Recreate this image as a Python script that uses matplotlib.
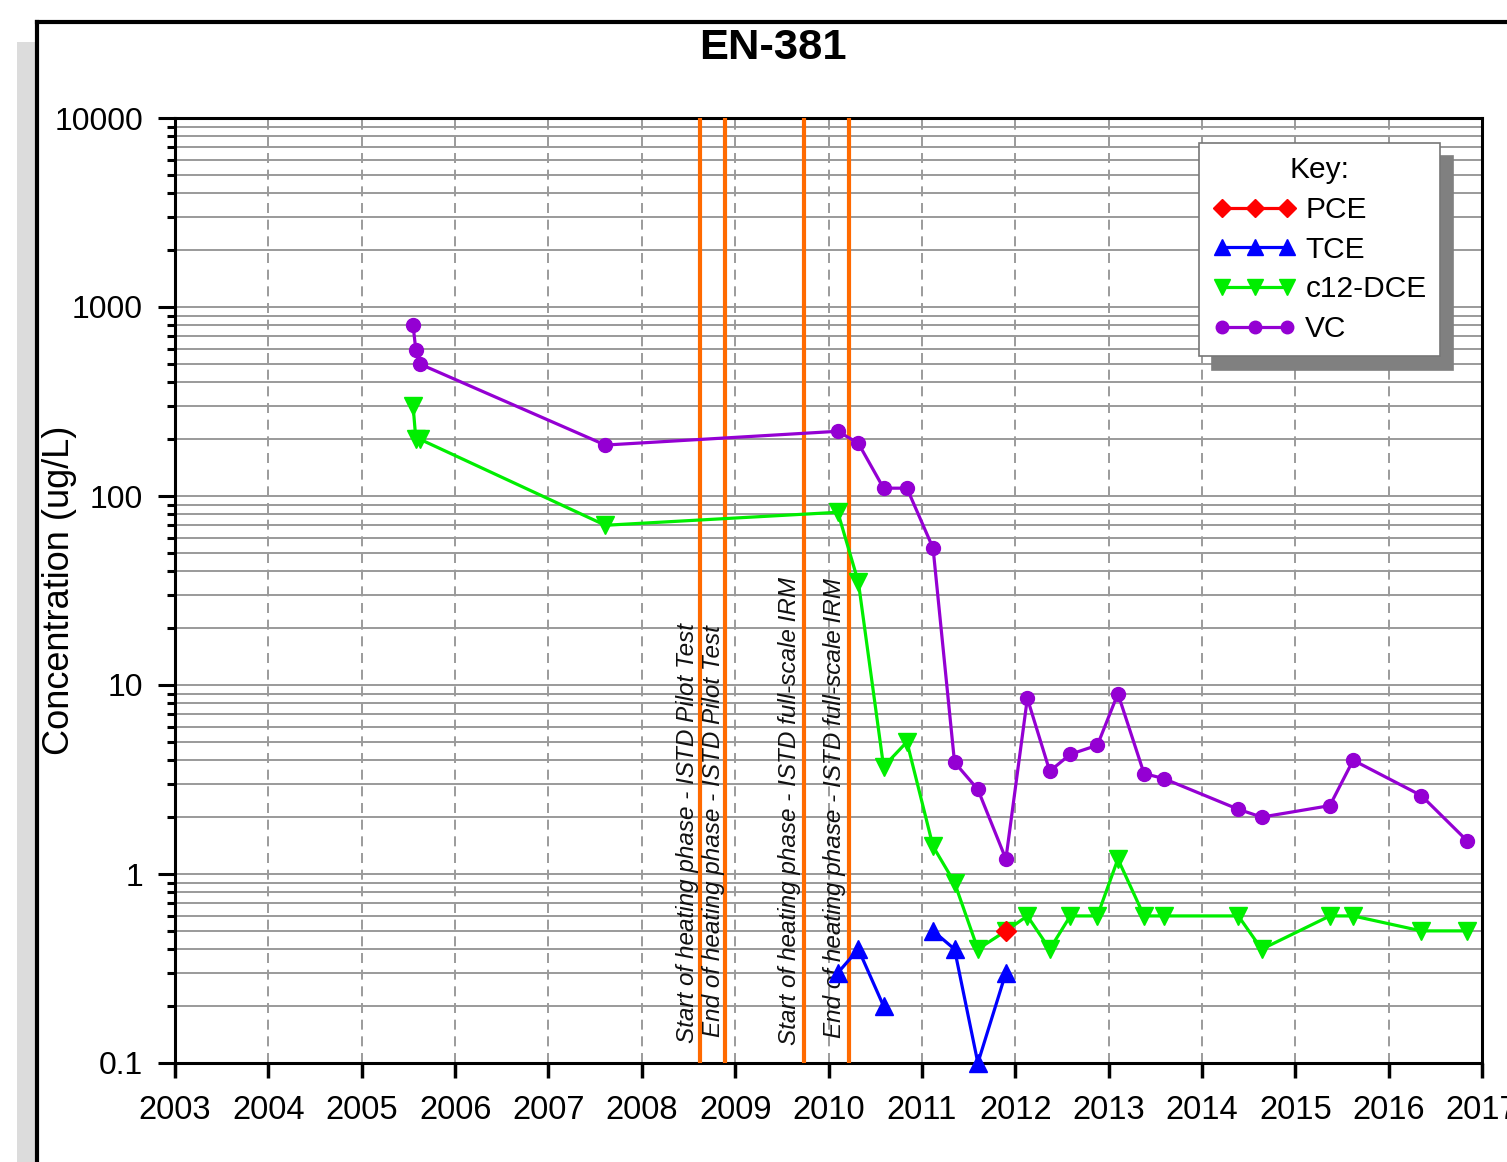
import numpy as np
import matplotlib
matplotlib.use('Agg')
import matplotlib.pyplot as plt
from matplotlib.lines import Line2D
from matplotlib.patches import Rectangle
import matplotlib.ticker as mticker
import matplotlib.transforms as mtransforms

plt.rcParams['font.family'] = ['Liberation Sans', 'DejaVu Sans']

nan = np.nan
# ---- data ----
vc_dates = [2005.55, 2005.58, 2005.62, 2007.61, 2010.10, 2010.32, 2010.59, 2010.84,
            2011.12, 2011.35, 2011.60, 2011.90, 2012.13, 2012.37, 2012.59, 2012.88,
            2013.10, 2013.38, 2013.59, 2014.39, 2014.64, 2015.37, 2015.62, 2016.35, 2016.84]
vc = [800, 590, 500, 186, 220, 190, 110, 110, 53, 3.9, 2.8, 1.2, 8.5, 3.5, 4.3, 4.8,
      9.0, 3.4, 3.2, 2.2, 2.0, 2.3, 4.0, 2.6, 1.5]
dce_dates = [2005.55, 2005.58, 2005.62, 2007.61, 2010.10, 2010.32, 2010.59, 2010.84,
             2011.12, 2011.35, 2011.60, 2011.90, 2012.13, 2012.37, 2012.59, 2012.88,
             2013.10, 2013.38, 2013.59, 2014.39, 2014.64, 2015.37, 2015.62, 2016.35, 2016.84]
dce = [300, 200, 200, 70, 82, 35, 3.7, 5.0, 1.4, 0.9, 0.4, 0.5, 0.6, 0.4, 0.6, 0.6,
       1.2, 0.6, 0.6, 0.6, 0.4, 0.6, 0.6, 0.5, 0.5]
tce_dates = [2010.10, 2010.32, 2010.59, 2010.84, 2011.12, 2011.35, 2011.60, 2011.90]
tce = [0.3, 0.4, 0.2, nan, 0.5, 0.4, 0.1, 0.3]
pce_dates = [2011.90]
pce = [0.5]

event_dates = [2008.62, 2008.89, 2009.74, 2010.22]
event_labels = ["Start of heating phase - ISTD Pilot Test",
                "End of heating phase - ISTD Pilot Test",
                "Start of heating phase - ISTD full-scale IRM",
                "End of heating phase - ISTD full-scale IRM"]

year_ticks = list(range(2003, 2018))
y_ticks = [0.1, 1, 10, 100, 1000, 10000]
y_tick_labels = ["0.1", "1", "10", "100", "1000", "10000"]

series_names = ["PCE", "TCE", "c12-DCE", "VC"]
series_colors = ["#ff0000", "#0000ff", "#00ee00", "#9400d3"]
series_markers = ["D", "^", "v", "o"]

# ---- figure ----
W, H = 1507, 1162
fig = plt.figure(figsize=(W / 100, H / 100), dpi=100)

# outer frame with shadow
fig.patches.append(Rectangle((17 / W, 0), 20 / W, 1 - 42 / H, transform=fig.transFigure,
                             facecolor='#dcdcdc', edgecolor='none', zorder=0))
fig.lines.append(Line2D([37 / W, 37 / W], [0, 1 - 22 / H], transform=fig.transFigure,
                        color='black', lw=3, zorder=1))
fig.lines.append(Line2D([37 / W, 1.0], [1 - 22 / H, 1 - 22 / H], transform=fig.transFigure,
                        color='black', lw=3, zorder=1))

ax = fig.add_axes([175 / W, 1 - 1063 / H, (1482 - 175) / W, (1063 - 118) / H])
ax.set_yscale('log')
ax.set_xlim(2003, 2017)
ax.set_ylim(0.1, 10000)

# grid
ax.yaxis.set_major_locator(mticker.FixedLocator(y_ticks))
ax.yaxis.set_major_formatter(mticker.FixedFormatter(y_tick_labels))
ax.yaxis.set_minor_locator(mticker.LogLocator(base=10, subs=np.arange(2, 10)))
ax.yaxis.set_minor_formatter(mticker.NullFormatter())
ax.set_xticks(year_ticks)
ax.set_xticklabels([str(y) for y in year_ticks])
ax.grid(True, which='both', axis='y', color='#9a9a9a', lw=1.4, ls='-')
ax.grid(True, which='major', axis='x', color='#8a8a8a', lw=1.2, ls=(0, (6, 4)))
ax.set_axisbelow(True)

ax.tick_params(axis='y', which='major', length=12, width=2.2, pad=11, labelsize=23, direction='out')
ax.tick_params(axis='y', which='minor', length=6, width=2.2, direction='out')
ax.tick_params(axis='x', which='major', length=11, width=2.5, pad=12, labelsize=23.5, direction='out')

for s in ['left', 'bottom', 'top']:
    ax.spines[s].set_linewidth(2.2)
    ax.spines[s].set_color('black')
ax.spines['right'].set_linewidth(2.2)
ax.spines['right'].set_linestyle((0, (3, 1)))

# event lines
for d in event_dates:
    ax.axvline(d, color='#ff6a00', lw=3, zorder=3)
trans = mtransforms.blended_transform_factory(ax.transData, ax.transAxes)
label_offsets = [-0.13, -0.12, -0.16, -0.16]
label_bottoms = [0.021, 0.027, 0.019, 0.026]
for d, lab, off, b in zip(event_dates, event_labels, label_offsets, label_bottoms):
    ax.text(d + off, b, lab, rotation=90, ha='center', va='bottom', transform=trans,
            fontsize=17.5, style='italic', color='#111111', zorder=4)

# series
data = [(pce_dates, pce), (tce_dates, tce), (dce_dates, dce), (vc_dates, vc)]
msizes = [10, 12.5, 12.5, 10]
handles = []
for (xd, yd), name, c, m, ms in zip(data, series_names, series_colors, series_markers, msizes):
    ax.plot(xd, yd, color=c, marker=m, ms=ms, lw=2.3, zorder=5 if name != 'PCE' else 6,
            clip_on=False)
    handles.append(Line2D([], [], color=c, marker=m, ms=ms - 1, lw=2.3))

leg = ax.legend(handles, series_names, title="Key:", loc='upper right',
                bbox_to_anchor=((1440 - 175) / 1307, (1063 - 143) / 945), borderaxespad=0,
                fontsize=21.5, title_fontsize=21.5, numpoints=3, handlelength=2.8,
                handletextpad=0.3, labelspacing=0.39, borderpad=0.45, fancybox=False,
                framealpha=1, edgecolor='#777777',
                shadow={'ox': 9, 'oy': -9.5, 'color': '#808080', 'alpha': 1})
leg.get_frame().set_linewidth(1.2)
leg.set_zorder(10)

ax.set_ylabel("Concentration (ug/L)", fontsize=26)
ax.yaxis.set_label_coords((77 - 175) / 1307, 0.5)
fig.text(773 / W, 1 - 48 / H, "EN-381", ha='center', va='center', fontsize=31.3,
         fontweight='bold')

fig.savefig('out.png', dpi=100)
